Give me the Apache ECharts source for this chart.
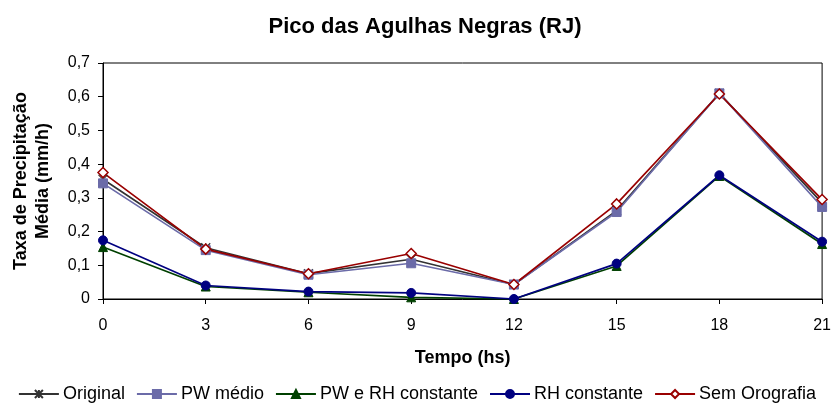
<!DOCTYPE html>
<html>
<head>
<meta charset="utf-8">
<script src="https://cdn.jsdelivr.net/npm/echarts@6/dist/echarts.min.js"></script>
<style>
  html, body { margin: 0; padding: 0; background: #fff; }
  #chart { width: 834px; height: 406px; }
</style>
</head>
<body>
<div id="chart"></div>
<script>
var hours = ['0', '3', '6', '9', '12', '15', '18', '21'];
var original = [0.355, 0.152, 0.075, 0.118, 0.043, 0.262, 0.610, 0.285];
var pwMedio = [0.343, 0.145, 0.072, 0.106, 0.043, 0.258, 0.610, 0.273];
var pwRhConst = [0.154, 0.037, 0.020, 0.005, 0.000, 0.098, 0.365, 0.163];
var rhConst = [0.174, 0.040, 0.022, 0.018, 0.000, 0.105, 0.367, 0.170];
var semOrografia = [0.375, 0.148, 0.075, 0.135, 0.043, 0.282, 0.608, 0.295];

var chart = echarts.init(document.getElementById('chart'), null, { renderer: 'canvas' });

var fontFam = '"Liberation Sans", Arial, sans-serif';

function line(name, data, color, symbol, size, extra) {
  var s = {
    name: name,
    type: 'line',
    data: data,
    symbol: symbol,
    symbolSize: size,
    showSymbol: true,
    lineStyle: { color: color, width: 1.7 },
    itemStyle: { color: color, borderColor: color, borderWidth: 1 },
    animation: false
  };
  return Object.assign(s, extra || {});
}

var option = {
  backgroundColor: '#fff',
  textStyle: { fontFamily: fontFam },
  title: {
    text: 'Pico das Agulhas Negras (RJ)',
    left: 420,
    textAlign: 'center',
    top: 11,
    textStyle: { fontFamily: fontFam, fontSize: 22, fontWeight: 'bold', color: '#000' }
  },
  grid: {
    left: 103, right: 11, top: 63, bottom: 107,
    show: true, borderColor: '#000', borderWidth: 1
  },
  legend: {
    top: 380,
    left: 'center',
    itemWidth: 40,
    itemHeight: 10,
    itemGap: 11,
    textStyle: { fontFamily: fontFam, fontSize: 18, color: '#000', padding: [0, 0, 0, -1] },
    data: ['Original', 'PW médio', 'PW e RH constante', 'RH constante', 'Sem Orografia']
  },
  xAxis: {
    type: 'category',
    data: hours,
    boundaryGap: false,
    name: 'Tempo (hs)',
    nameLocation: 'middle',
    nameGap: 50,
    nameTextStyle: { fontFamily: fontFam, fontSize: 18, fontWeight: 'bold', color: '#000' },
    axisLine: { lineStyle: { color: '#000', width: 1 } },
    axisTick: { show: true, length: 5, lineStyle: { color: '#000' } },
    axisLabel: { fontSize: 16, color: '#000', margin: 19 },
    splitLine: { show: false }
  },
  yAxis: {
    type: 'value',
    min: 0,
    max: 0.7,
    interval: 0.1,
    name: 'Taxa de Precipitação\nMédia (mm/h)',
    nameLocation: 'middle',
    nameGap: 49,
    nameTextStyle: { fontFamily: fontFam, fontSize: 18, fontWeight: 'bold', color: '#000', lineHeight: 22 },
    axisLine: { show: true, lineStyle: { color: '#000', width: 1 } },
    axisTick: { show: true, length: 5, lineStyle: { color: '#000' } },
    axisLabel: {
      fontSize: 16, color: '#000', margin: 13,
      formatter: function (v) { return String(Math.round(v * 10) / 10).replace('.', ','); }
    },
    splitLine: { show: false }
  },
  series: [
    line('Original', original, '#333333', 'path://M0,0L10,10M10,0L0,10M5,0L5,10', 9,
      { itemStyle: { color: 'none', borderColor: '#333333', borderWidth: 1.2 } }),
    line('PW médio', pwMedio, '#6B6BA8', 'rect', 9),
    line('PW e RH constante', pwRhConst, '#004000', 'triangle', 9),
    line('RH constante', rhConst, '#000080', 'circle', 9),
    line('Sem Orografia', semOrografia, '#990000', 'diamond', 10,
      { itemStyle: { color: '#fff', borderColor: '#990000', borderWidth: 1.5 } })
  ]
};

chart.setOption(option);
window.addEventListener('resize', chart.resize);
</script>
</body>
</html>
